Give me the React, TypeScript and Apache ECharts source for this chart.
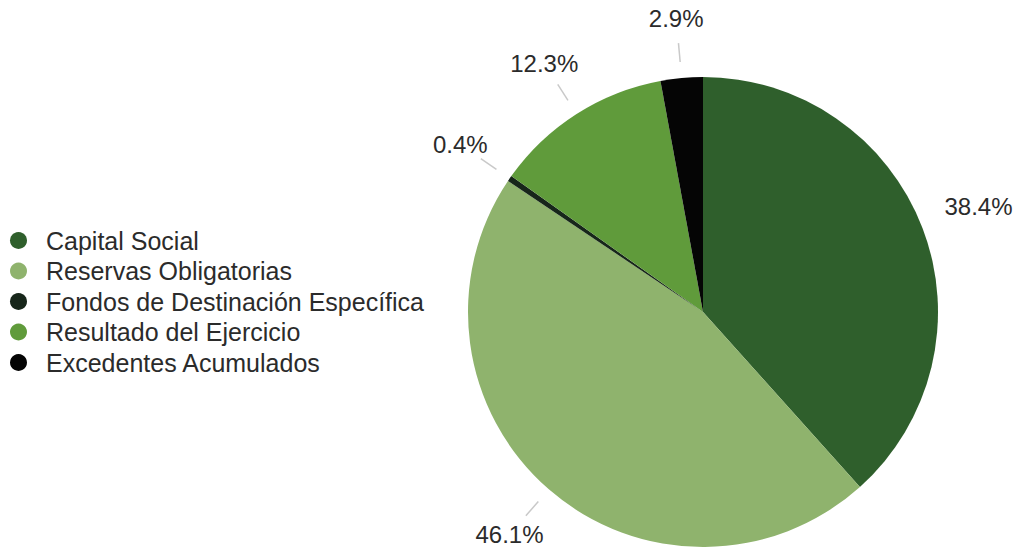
import React, { useEffect, useRef } from "react";
import * as echarts from "echarts";

const categories = [
  "Capital Social",
  "Reservas Obligatorias",
  "Fondos de Destinación Específica",
  "Resultado del Ejercicio",
  "Excedentes Acumulados",
];
const values = [38.4, 46.1, 0.4, 12.3, 2.9];
const labels = ["38.4%", "46.1%", "0.4%", "12.3%", "2.9%"];
const colors = ["#2f5f2c", "#8fb36d", "#17261a", "#609b3b", "#050505"];

const FONT = "'Liberation Sans', Arial, Helvetica, sans-serif";

export default function App() {
  const ref = useRef<HTMLDivElement>(null);
  useEffect(() => {
    if (!ref.current) return;
    const chart = echarts.init(ref.current, null, { renderer: "svg" });
    const center = [703, 312];
    chart.setOption({
      animation: false,
      backgroundColor: "#ffffff",
      legend: {
        orient: "vertical",
        left: 5,
        top: 223,
        icon: "circle",
        itemWidth: 17,
        itemHeight: 17,
        itemGap: 5.5,
        data: categories.map((n, i) => ({ name: n, itemStyle: { color: colors[i] } })),
        textStyle: {
          fontFamily: FONT,
          fontSize: 25,
          color: "#2b2b2b",
          padding: [0, 0, 0, 14],
        },
      },
      series: [
        {
          type: "pie",
          center,
          radius: 235,
          startAngle: 90,
          clockwise: true,
          label: { show: false },
          labelLine: { show: false },
          itemStyle: { borderWidth: 0 },
          emphasis: { disabled: true },
          data: categories.map((n, i) => ({
            name: n,
            value: values[i],
            itemStyle: { color: colors[i] },
          })),
        },
        {
          type: "pie",
          center,
          radius: 251,
          startAngle: 90,
          clockwise: true,
          silent: true,
          legendHoverLink: false,
          itemStyle: { color: "rgba(0,0,0,0)" },
          emphasis: { disabled: true },
          label: { show: true, position: "outside", formatter: " ", fontSize: 4 },
          labelLine: {
            show: true,
            length: 19,
            length2: 0,
            smooth: false,
            lineStyle: { color: "#c9c9c9", width: 1.5 },
          },
          data: categories.map((n, i) => ({
            name: n,
            value: values[i],
            labelLine: { show: i !== 0 },
          })),
        },
        {
          type: "pie",
          center,
          radius: [275, 309],
          startAngle: 90,
          clockwise: true,
          silent: true,
          legendHoverLink: false,
          itemStyle: { color: "rgba(0,0,0,0)" },
          emphasis: { disabled: true },
          label: {
            show: true,
            position: "inside",
            fontFamily: FONT,
            fontSize: 24,
            color: "#2b2b2b",
            formatter: (p: any) => labels[p.dataIndex],
          },
          labelLine: { show: false },
          data: categories.map((n, i) => ({ name: n, value: values[i] })),
        },
      ],
    });
    return () => chart.dispose();
  }, []);
  return (
    <div
      ref={ref}
      style={{ position: "absolute", left: 0, top: 0, width: 1015, height: 548 }}
    />
  );
}
